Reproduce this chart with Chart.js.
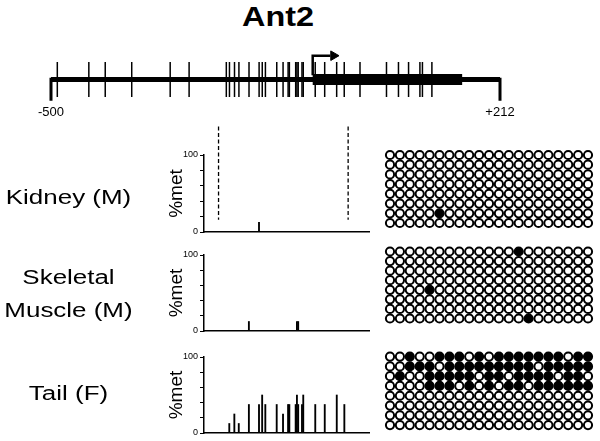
<!DOCTYPE html>
<html>
<head>
<meta charset="utf-8">
<script src="https://cdn.jsdelivr.net/npm/chart.js@4.4.1/dist/chart.umd.min.js"></script>
<style>
body { margin: 0; background: #fff; }
#page { position: relative; width: 600px; height: 441px; overflow: hidden; background: #fff; font-family: Arial, "Liberation Sans", sans-serif; color: #000; }
#page canvas { position: absolute; }
.label { position: absolute; text-align: center; white-space: pre; }
</style>
</head>
<body>
<div id="page">
  <canvas id="geneChart" width="489" height="95" style="left:31px; top:35px"></canvas>
  <canvas id="kidneyChart" width="230" height="120" style="left:150px; top:120px"></canvas>
  <canvas id="muscleChart" width="230" height="100" style="left:150px; top:240px"></canvas>
  <canvas id="tailChart" width="230" height="101" style="left:150px; top:340px"></canvas>
  <canvas id="kidneyClones" width="220" height="90" style="left:380px; top:145px"></canvas>
  <canvas id="muscleClones" width="220" height="90" style="left:380px; top:240px"></canvas>
  <canvas id="tailClones" width="220" height="95" style="left:380px; top:345px"></canvas>
</div>
<script>
const geneName = "Ant2";
const geneEnds = [-500, 212];
const exonRange = [-85, 152];
const regionBounds = [-234, -29];

// CpG sites (bp), the middle group is the one that was sequenced
const cpgUpstream = [-490, -440, -414, -372, -311, -281];
const cpgRegion = [-222, -217, -209, -202, -186, -170, -165, -160, -142, -132, -124, -122, -112, -110, -108, -102, -100, -81, -66, -47, -35];
const cpgDownstream = [-10, 32, 51, 67, 85, 89, 104];

const tissues = ["Kidney (M)", "Skeletal\nMuscle (M)", "Tail (F)"];

const kidneyMet = [0, 0, 0, 0, 0, 12.5, 0, 0, 0, 0, 0, 0, 0, 0, 0, 0, 0, 0, 0, 0, 0];
const muscleMet = [0, 0, 0, 0, 12.5, 0, 0, 0, 0, 0, 0, 0, 0, 12.5, 12.5, 0, 0, 0, 0, 0, 0];
const tailMet = [0, 12.5, 25, 12.5, 37.5, 37.5, 50, 37.5, 37.5, 25, 37.5, 37.5, 37.5, 50, 37.5, 37.5, 50, 37.5, 37.5, 50, 37.5];

// one string per clone, one character per CpG (1 = methylated)
const kidneyClones = [
    "000000000000000000000",
    "000000000000000000000",
    "000000000000000000000",
    "000000000000000000000",
    "000000000000000000000",
    "000000000000000000000",
    "000001000000000000000",
    "000000000000000000000"
];
const muscleClones = [
    "000000000000010000000",
    "000000000000000000000",
    "000000000000000000000",
    "000000000000000000000",
    "000010000000000000000",
    "000000000000000000000",
    "000000000000000000000",
    "000000000000001000000"
];
const tailClones = [
    "001001110101111111011",
    "001110111111111011111",
    "010011111011011110110",
    "000011101010110111111",
    "000000000000000000000",
    "000000000000000000000",
    "000000000000000000000",
    "000000000000000000000"
];

const metTicks = [0, 20, 40, 60, 80, 100];
const metLabels = ["0", "100"];

const labelTops = [187.5, 260.7, 383.5];

init();

function init() {
    addLabels();
    drawGeneMap();

    makeMetChart("kidneyChart", kidneyMet, 35, 8, true);
    makeMetChart("muscleChart", muscleMet, 15, 9, false);
    makeMetChart("tailChart", tailMet, 17, 8, false);

    makeCloneChart("kidneyClones", kidneyClones, {left: 10, right: 12, top: 10, bottom: 12});
    makeCloneChart("muscleClones", muscleClones, {left: 10, right: 12, top: 11.5, bottom: 11.5});
    makeCloneChart("tailClones", tailClones, {left: 10, right: 12, top: 11.6, bottom: 14.9});
}

function addLabels() {
    const page = document.getElementById("page");

    const title = document.createElement("div");
    title.className = "label";
    title.textContent = geneName;
    title.style.cssText = "left:228px; top:4px; width:100px; font-size:27px; line-height:27px; font-weight:bold; transform:scaleX(1.2)";
    page.appendChild(title);

    tissues.forEach((name, i) => {
        const div = document.createElement("div");
        div.className = "label";
        div.textContent = name;
        const lh = name.includes("\n") ? 33 : 19.5;
        div.style.cssText = `left:0px; top:${labelTops[i]}px; width:137px; font-size:19.5px; line-height:${lh}px; transform:scaleX(1.33)`;
        page.appendChild(div);
    });
}

function blackLine(points, width, extra) {
    return Object.assign({
        type: "line",
        data: points,
        borderColor: "#000",
        borderWidth: width,
        pointRadius: 0,
        clip: false
    }, extra || {});
}

function drawGeneMap() {
    const allCpg = cpgUpstream.concat(cpgRegion, cpgDownstream);

    const endLabels = {
        id: "endLabels",
        afterDatasetsDraw(chart) {
            const {ctx, chartArea} = chart;
            const x = chart.scales.x;
            ctx.save();
            ctx.font = "13px Arial";
            ctx.fillStyle = "#000";
            ctx.textAlign = "center";
            ctx.textBaseline = "middle";
            geneEnds.forEach(v => {
                ctx.fillText(v > 0 ? "+" + v : String(v), x.getPixelForValue(v), chartArea.bottom + 7);
            });
            ctx.restore();
        }
    };

    new Chart(document.getElementById("geneChart"), {
        type: "scatter",
        data: {
            datasets: [
                blackLine([{x: geneEnds[0], y: 0}, {x: geneEnds[1], y: 0}], 5),
                blackLine([{x: exonRange[0], y: 0}, {x: exonRange[1], y: 0}], 11),
                blackLine([{x: geneEnds[0], y: 2}, {x: geneEnds[0], y: -25}], 3),
                blackLine([{x: geneEnds[1], y: 2}, {x: geneEnds[1], y: -25}], 3),
                {
                    type: "scatter",
                    data: allCpg.map(pos => ({x: pos, y: 0})),
                    pointStyle: "line",
                    rotation: 90,
                    pointRadius: 17.5,
                    pointBorderWidth: 1.5,
                    pointBorderColor: "#000",
                    clip: false
                },
                blackLine([{x: exonRange[0], y: 5}, {x: exonRange[0], y: 28}, {x: -57, y: 28}], 2.5, {borderJoinStyle: "miter"}),
                {
                    type: "scatter",
                    data: [{x: -52, y: 28}],
                    pointStyle: "triangle",
                    rotation: 90,
                    pointRadius: 5.5,
                    pointBackgroundColor: "#000",
                    pointBorderColor: "#000",
                    pointBorderWidth: 1,
                    clip: false
                }
            ]
        },
        options: {
            responsive: false,
            animation: false,
            layout: {padding: {left: 20, right: 20, top: 10, bottom: 25}},
            plugins: {legend: {display: false}, tooltip: {enabled: false}},
            scales: {
                x: {type: "linear", display: false, min: geneEnds[0], max: geneEnds[1]},
                y: {type: "linear", display: false, min: -30, max: 30}
            }
        },
        plugins: [endLabels]
    });
}

function makeMetChart(id, values, padTop, padBottom, withBounds) {
    const datasets = [{
        type: "bar",
        data: cpgRegion.map((pos, i) => ({x: pos, y: values[i]})).filter(p => p.y > 0),
        backgroundColor: "#000",
        barThickness: 1.2
    }];

    if (withBounds) {
        regionBounds.forEach(pos => {
            datasets.push(blackLine([{x: pos, y: 137}, {x: pos, y: 16}], 1.3, {borderDash: [4, 2.5]}));
        });
    }

    new Chart(document.getElementById(id), {
        type: "bar",
        data: {datasets: datasets},
        options: {
            responsive: false,
            animation: false,
            layout: {padding: {left: 0, right: 11, top: padTop, bottom: padBottom}},
            plugins: {legend: {display: false}, tooltip: {enabled: false}},
            scales: {
                x: {
                    type: "linear",
                    min: -257,
                    max: 4,
                    offset: false,
                    ticks: {display: false},
                    grid: {display: false},
                    border: {display: true, color: "#000", width: 1.5},
                    afterFit: s => { s.height = 0; }
                },
                y: {
                    min: 0,
                    max: 100,
                    afterBuildTicks: s => { s.ticks = metTicks.map(v => ({value: v})); },
                    ticks: {
                        font: {size: 9, family: "Arial"},
                        color: "#000",
                        padding: 2,
                        callback: v => metLabels.includes(String(v)) ? String(v) : ""
                    },
                    grid: {drawOnChartArea: false, color: "#000", tickLength: 4, lineWidth: 1},
                    border: {display: true, color: "#000", width: 1.5},
                    title: {
                        display: true,
                        text: "%met",
                        font: {size: 19, family: "Arial"},
                        color: "#000",
                        padding: {top: 15, bottom: 0}
                    },
                    afterFit: s => { s.width = 54; }
                }
            }
        }
    });
}

function makeCloneChart(id, rows, pad) {
    const points = [];
    const fills = [];

    rows.forEach((row, r) => {
        row.split("").forEach((ch, c) => {
            points.push({x: c, y: r});
            fills.push(ch === "1" ? "#000" : "#fff");
        });
    });

    new Chart(document.getElementById(id), {
        type: "scatter",
        data: {
            datasets: [{
                data: points,
                pointRadius: 4.1,
                pointBorderWidth: 2,
                pointBorderColor: "#000",
                pointBackgroundColor: fills,
                clip: false
            }]
        },
        options: {
            responsive: false,
            animation: false,
            layout: {padding: pad},
            plugins: {legend: {display: false}, tooltip: {enabled: false}},
            scales: {
                x: {type: "linear", display: false, min: 0, max: rows[0].length - 1},
                y: {type: "linear", display: false, min: 0, max: rows.length - 1, reverse: true}
            }
        }
    });
}
</script>
</body>
</html>
